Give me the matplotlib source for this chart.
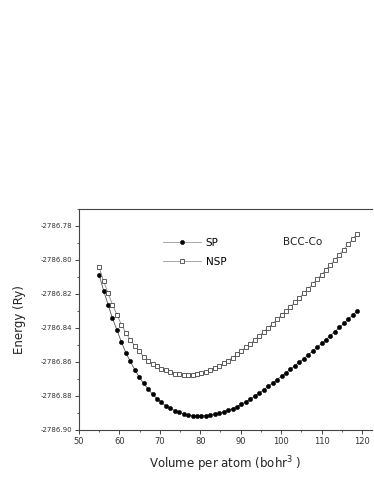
import matplotlib
matplotlib.use("Agg")
import matplotlib.pyplot as plt
from matplotlib.ticker import MultipleLocator, FixedLocator, FixedFormatter

volume = [55.0, 56.1, 57.2, 58.3, 59.4, 60.5, 61.6, 62.7, 63.8, 64.9,
          66.0, 67.1, 68.2, 69.3, 70.4, 71.5, 72.6, 73.7, 74.8, 75.9,
          77.0, 78.1, 79.2, 80.3, 81.4, 82.5, 83.6, 84.7, 85.8, 86.9,
          88.0, 89.1, 90.2, 91.3, 92.4, 93.5, 94.6, 95.7, 96.8, 97.9,
          99.0, 100.1, 101.2, 102.3, 103.4, 104.5, 105.6, 106.7, 107.8, 108.9,
          110.0, 111.1, 112.2, 113.3, 114.4, 115.5, 116.6, 117.7, 118.8]

energy_sp = [-2786.8088, -2786.8180, -2786.8262, -2786.8343, -2786.8412,
             -2786.8482, -2786.8545, -2786.8597, -2786.8645, -2786.8688,
             -2786.8726, -2786.8758, -2786.8790, -2786.8815, -2786.8838,
             -2786.8858, -2786.8873, -2786.8886, -2786.8897, -2786.8905,
             -2786.8911, -2786.8915, -2786.8917, -2786.8917, -2786.8915,
             -2786.8911, -2786.8906, -2786.8900, -2786.8893, -2786.8884,
             -2786.8874, -2786.8862, -2786.8848, -2786.8833, -2786.8817,
             -2786.8800, -2786.8782, -2786.8763, -2786.8744, -2786.8724,
             -2786.8704, -2786.8683, -2786.8663, -2786.8643, -2786.8622,
             -2786.8601, -2786.8580, -2786.8558, -2786.8536, -2786.8514,
             -2786.8491, -2786.8468, -2786.8445, -2786.8421, -2786.8397,
             -2786.8373, -2786.8348, -2786.8324, -2786.8300]

energy_nsp = [-2786.8043, -2786.8125, -2786.8195, -2786.8262, -2786.8322,
              -2786.8380, -2786.8428, -2786.8468, -2786.8505, -2786.8538,
              -2786.8568, -2786.8594, -2786.8612, -2786.8626, -2786.8639,
              -2786.8650, -2786.8660, -2786.8668, -2786.8673, -2786.8676,
              -2786.8677, -2786.8676, -2786.8672, -2786.8666, -2786.8657,
              -2786.8647, -2786.8636, -2786.8622, -2786.8607, -2786.8592,
              -2786.8574, -2786.8555, -2786.8535, -2786.8514, -2786.8492,
              -2786.8470, -2786.8447, -2786.8423, -2786.8399, -2786.8375,
              -2786.8350, -2786.8325, -2786.8300, -2786.8275, -2786.8249,
              -2786.8223, -2786.8196, -2786.8169, -2786.8142, -2786.8114,
              -2786.8086, -2786.8057, -2786.8028, -2786.7999, -2786.7969,
              -2786.7939, -2786.7908, -2786.7877, -2786.7846]

x_ticks = [50, 60, 70, 80, 90, 100, 110, 120]
y_ticks = [-2786.90, -2786.88, -2786.86, -2786.84, -2786.82, -2786.80, -2786.78]
y_tick_labels = ["-2786.90", "-2786.88", "-2786.86", "-2786.84", "-2786.82", "-2786.80", "-2786.78"]

plt.rcParams['font.family'] = ['DejaVu Sans']
fig = plt.figure(figsize=(3.74, 4.84), dpi=100)
ax = fig.add_axes([0.211, 0.1116, 0.784, 0.4566])

ax.plot(volume, energy_sp, '-', color='#555555', lw=0.6, marker='o', ms=3.0,
        mfc='black', mec='black', mew=0.4, label='SP')
ax.plot(volume, energy_nsp, '-', color='#888888', lw=0.6, marker='s', ms=3.0,
        mfc='white', mec='#444444', mew=0.6, label='NSP')

ax.set_xlim(50, 122.5)
ax.set_ylim(-2786.90, -2786.77)
ax.xaxis.set_major_locator(FixedLocator(x_ticks))
ax.xaxis.set_minor_locator(MultipleLocator(5))
ax.yaxis.set_major_locator(FixedLocator(y_ticks))
ax.yaxis.set_major_formatter(FixedFormatter(y_tick_labels))
ax.yaxis.set_minor_locator(MultipleLocator(0.01))

ax.spines['right'].set_visible(False)
for s in ['left', 'bottom', 'top']:
    ax.spines[s].set_color('#444444')
    ax.spines[s].set_linewidth(0.8)
ax.tick_params(axis='both', which='major', direction='out', length=3, width=0.7,
               labelsize=5, colors='#444444', labelcolor='#333333', pad=2)
ax.tick_params(axis='both', which='minor', direction='out', length=1.5, width=0.6,
               colors='#444444')
ax.tick_params(axis='x', which='major', labelsize=6)

ax.set_ylabel('Energy (Ry)', fontsize=8.5, color='#222222', labelpad=10)
ax.set_xlabel('Volume per atom (bohr$^3$ )', fontsize=8.5, color='#222222', labelpad=6)

leg = ax.legend(loc='upper left', bbox_to_anchor=(0.287, 0.869), frameon=False,
                fontsize=7.5, handlelength=3.6, handletextpad=0.5, labelspacing=0.85,
                borderaxespad=0, borderpad=0)
for line in leg.get_lines():
    line.set_color('#999999')

ax.text(0.696, 0.851, 'BCC-Co', transform=ax.transAxes, fontsize=7.5, color='#222222',
        ha='left', va='center')

fig.savefig('out.png', dpi=100)
